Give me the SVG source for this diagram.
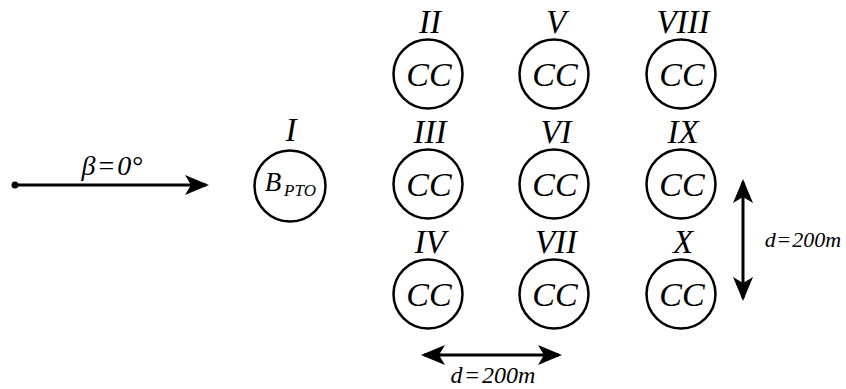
<svg xmlns="http://www.w3.org/2000/svg" width="846" height="389" viewBox="0 0 846 389">
<defs>
  <marker id="ah" markerUnits="userSpaceOnUse" markerWidth="26" markerHeight="22" viewBox="0 0 26 22" refX="22" refY="11" orient="auto-start-reverse">
    <path d="M1,1 L25,11 L1,21 L7,11 Z" fill="#000"/>
  </marker>
</defs>

<g id="connectors" stroke="#000" stroke-width="3" fill="none">
  <circle cx="15" cy="185" r="3.5" fill="#000" stroke="none"/>
  <line x1="15" y1="185" x2="206" y2="185" marker-end="url(#ah)"/>
  <line x1="424" y1="355" x2="559" y2="355" marker-start="url(#ah)" marker-end="url(#ah)"/>
  <line x1="743" y1="182" x2="743" y2="298" marker-start="url(#ah)" marker-end="url(#ah)"/>
</g>

<g id="labels">
  <g font-family="Liberation Serif" font-style="italic" text-anchor="middle">
    <text x="112" y="175" font-size="28" font-family="Liberation Serif" font-style="italic"><tspan font-family="Liberation Serif">β</tspan><tspan font-family="Liberation Serif" font-style="normal" dx="3">=</tspan><tspan font-family="Liberation Serif" dx="3">0°</tspan></text>
    <text x="493" y="383" font-size="24" font-family="Liberation Serif" font-style="italic"><tspan font-family="Liberation Serif">d</tspan><tspan font-family="Liberation Serif" font-style="normal" dx="3">=</tspan><tspan font-family="Liberation Serif" dx="3">200m</tspan></text>
    <text x="803" y="247" font-size="22" font-family="Liberation Serif" font-style="italic"><tspan font-family="Liberation Serif">d</tspan><tspan font-family="Liberation Serif" font-style="normal" dx="2">=</tspan><tspan font-family="Liberation Serif" dx="2">200m</tspan></text>
  </g>
</g>

<g id="node-I">
  <circle cx="290" cy="186" r="35.5" fill="none" stroke="#000" stroke-width="2.5"/>
  <g font-family="Liberation Serif" font-style="italic" text-anchor="middle">
    <text x="291" y="141" font-size="33" font-family="Liberation Serif"><tspan font-family="Liberation Serif">I</tspan></text>
    <text x="273" y="191" font-size="27" font-family="Liberation Serif"><tspan font-family="Liberation Serif">B</tspan></text>
    <text x="300" y="196" font-size="17" font-family="Liberation Serif"><tspan font-family="Liberation Serif">PTO</tspan></text>
  </g>
</g>

<g id="node-II">
  <circle cx="428" cy="74" r="34.5" fill="none" stroke="#000" stroke-width="2.5"/>
  <g font-family="Liberation Serif" font-style="italic" text-anchor="middle">
    <text x="430" y="33" font-size="33" font-family="Liberation Serif"><tspan font-family="Liberation Serif">II</tspan></text>
    <text x="429" y="86" font-size="34" font-family="Liberation Serif"><tspan font-family="Liberation Serif">CC</tspan></text>
  </g>
</g>
<g id="node-III">
  <circle cx="428" cy="184" r="34.5" fill="none" stroke="#000" stroke-width="2.5"/>
  <g font-family="Liberation Serif" font-style="italic" text-anchor="middle">
    <text x="430" y="143" font-size="33" font-family="Liberation Serif"><tspan font-family="Liberation Serif">III</tspan></text>
    <text x="429" y="196" font-size="34" font-family="Liberation Serif"><tspan font-family="Liberation Serif">CC</tspan></text>
  </g>
</g>
<g id="node-IV">
  <circle cx="428" cy="294" r="34.5" fill="none" stroke="#000" stroke-width="2.5"/>
  <g font-family="Liberation Serif" font-style="italic" text-anchor="middle">
    <text x="430" y="253" font-size="33" font-family="Liberation Serif"><tspan font-family="Liberation Serif">IV</tspan></text>
    <text x="429" y="306" font-size="34" font-family="Liberation Serif"><tspan font-family="Liberation Serif">CC</tspan></text>
  </g>
</g>

<g id="node-V">
  <circle cx="554" cy="74" r="34.5" fill="none" stroke="#000" stroke-width="2.5"/>
  <g font-family="Liberation Serif" font-style="italic" text-anchor="middle">
    <text x="556" y="33" font-size="33" font-family="Liberation Serif"><tspan font-family="Liberation Serif">V</tspan></text>
    <text x="555" y="86" font-size="34" font-family="Liberation Serif"><tspan font-family="Liberation Serif">CC</tspan></text>
  </g>
</g>
<g id="node-VI">
  <circle cx="554" cy="184" r="34.5" fill="none" stroke="#000" stroke-width="2.5"/>
  <g font-family="Liberation Serif" font-style="italic" text-anchor="middle">
    <text x="556" y="143" font-size="33" font-family="Liberation Serif"><tspan font-family="Liberation Serif">VI</tspan></text>
    <text x="555" y="196" font-size="34" font-family="Liberation Serif"><tspan font-family="Liberation Serif">CC</tspan></text>
  </g>
</g>
<g id="node-VII">
  <circle cx="554" cy="294" r="34.5" fill="none" stroke="#000" stroke-width="2.5"/>
  <g font-family="Liberation Serif" font-style="italic" text-anchor="middle">
    <text x="556" y="253" font-size="33" font-family="Liberation Serif"><tspan font-family="Liberation Serif">VII</tspan></text>
    <text x="555" y="306" font-size="34" font-family="Liberation Serif"><tspan font-family="Liberation Serif">CC</tspan></text>
  </g>
</g>

<g id="node-VIII">
  <circle cx="681" cy="74" r="34.5" fill="none" stroke="#000" stroke-width="2.5"/>
  <g font-family="Liberation Serif" font-style="italic" text-anchor="middle">
    <text x="683" y="33" font-size="33" font-family="Liberation Serif"><tspan font-family="Liberation Serif">VIII</tspan></text>
    <text x="682" y="86" font-size="34" font-family="Liberation Serif"><tspan font-family="Liberation Serif">CC</tspan></text>
  </g>
</g>
<g id="node-IX">
  <circle cx="681" cy="184" r="34.5" fill="none" stroke="#000" stroke-width="2.5"/>
  <g font-family="Liberation Serif" font-style="italic" text-anchor="middle">
    <text x="683" y="143" font-size="33" font-family="Liberation Serif"><tspan font-family="Liberation Serif">IX</tspan></text>
    <text x="682" y="196" font-size="34" font-family="Liberation Serif"><tspan font-family="Liberation Serif">CC</tspan></text>
  </g>
</g>
<g id="node-X">
  <circle cx="681" cy="294" r="34.5" fill="none" stroke="#000" stroke-width="2.5"/>
  <g font-family="Liberation Serif" font-style="italic" text-anchor="middle">
    <text x="683" y="253" font-size="33" font-family="Liberation Serif"><tspan font-family="Liberation Serif">X</tspan></text>
    <text x="682" y="306" font-size="34" font-family="Liberation Serif"><tspan font-family="Liberation Serif">CC</tspan></text>
  </g>
</g>
</svg>
